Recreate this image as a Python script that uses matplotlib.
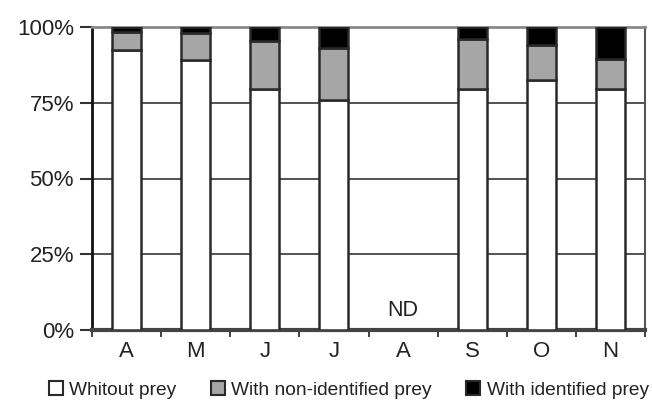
import numpy as np
import matplotlib
matplotlib.use("Agg")
import matplotlib.pyplot as plt
from matplotlib.patches import Patch

months = ["A", "M", "J", "J", "A", "S", "O", "N"]
without_prey = [92.5, 89, 79.5, 76, np.nan, 79.5, 82.5, 79.5]
non_identified = [6, 9, 16, 17, np.nan, 16.5, 11.5, 10]
identified = [1.5, 2, 4.5, 7, np.nan, 4, 6, 10.5]
labels = ["Whitout prey", "With non-identified prey", "With identified prey"]
nd_label = "ND"

plt.rcParams['font.family'] = ['Liberation Sans', 'DejaVu Sans']

fig = plt.figure(figsize=(6.52, 4.01), dpi=100)
ax = fig.add_axes([92/652, 1-330/401, (645-92)/652, (330-27)/401])

x = np.arange(len(months))
w1 = np.array(without_prey, dtype=float)
w2 = np.array(non_identified, dtype=float)
w3 = np.array(identified, dtype=float)
mask = ~np.isnan(w1)
xs = x[mask]
edge = '#2a2a2a'
lw = 1.8
width = 0.42
ax.bar(xs, w1[mask], width, color='white', edgecolor=edge, linewidth=lw, zorder=3)
ax.bar(xs, w2[mask], width, bottom=w1[mask], color='#a6a6a6', edgecolor=edge, linewidth=lw, zorder=3)
ax.bar(xs, w3[mask], width, bottom=w1[mask] + w2[mask], color='black', edgecolor=edge, linewidth=lw, zorder=3)

for i in x[~mask]:
    ax.text(i, 3, nd_label, ha='center', va='bottom', fontsize=15.5, color='#222222')

ax.set_xlim(-0.5, len(months) - 0.5)
ax.set_ylim(0, 100)
yt = [0, 25, 50, 75, 100]
ax.set_yticks(yt)
ax.set_yticklabels([f"{v}%" for v in yt], fontsize=16, color='#222222')
ax.tick_params(axis='y', direction='out', length=9, width=1.5, color='#333333', pad=4)
for v in yt[1:-1]:
    ax.axhline(v, color='#444444', linewidth=1.3, zorder=1)

ax.set_xticks(np.arange(len(months) + 1) - 0.5)
ax.set_xticklabels([])
ax.tick_params(axis='x', which='major', direction='out', length=5, width=1.3, color='#333333')
ax.set_xticks(x, minor=True)
ax.set_xticklabels(months, minor=True, fontsize=16, color='#222222')
ax.tick_params(axis='x', which='minor', length=0, pad=8)

ax.spines['left'].set_color('#111111')
ax.spines['left'].set_linewidth(2)
ax.spines['bottom'].set_color('#444444')
ax.spines['bottom'].set_linewidth(3)
ax.spines['top'].set_color('#8a8a8a')
ax.spines['top'].set_linewidth(2)
ax.spines['right'].set_color('#555555')
ax.spines['right'].set_linewidth(1.5)

handles = [Patch(facecolor='white', edgecolor=edge, linewidth=1.5),
           Patch(facecolor='#a6a6a6', edgecolor=edge, linewidth=1.5),
           Patch(facecolor='black', edgecolor=edge, linewidth=1.5)]
fig.legend(handles, labels, loc='center', bbox_to_anchor=(349/652, 1-390/401), ncol=3,
           frameon=False, fontsize=13.8, handlelength=0.7, handleheight=0.7,
           handletextpad=0.35, columnspacing=1.8, labelcolor='#222222')

fig.savefig("out.png", dpi=100)
